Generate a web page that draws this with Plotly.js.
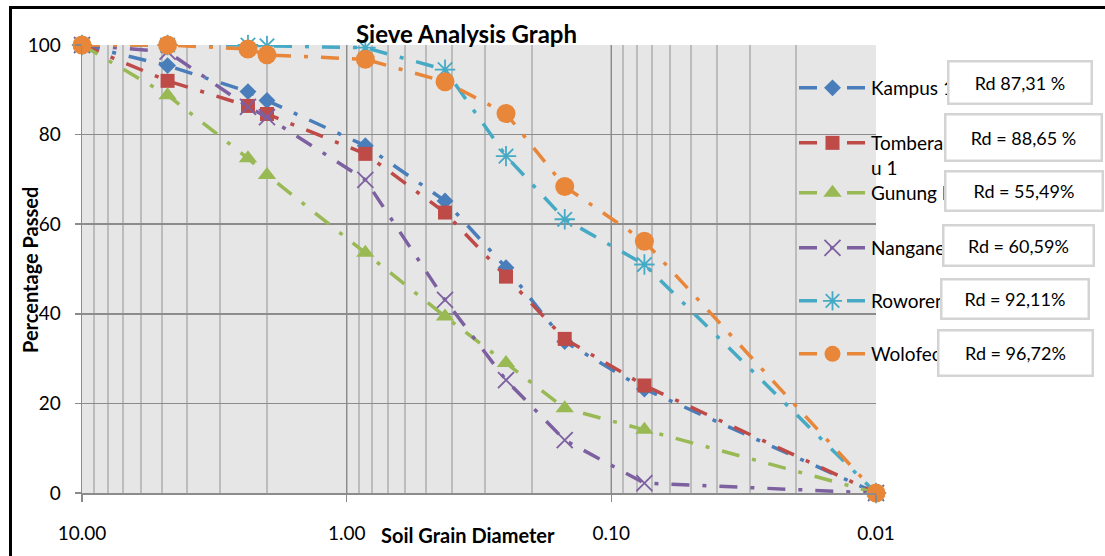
<!DOCTYPE html>
<html>
<head>
<meta charset="utf-8">
<script src="https://cdn.plot.ly/plotly-3.0.1.min.js"></script>
<style>
  html, body { margin: 0; padding: 0; background: #ffffff; }
  #chart { width: 1105px; height: 556px; }
</style>
</head>
<body>
<div id="chart"></div>
<script>
// ---- data ----
const grainSize = [10, 4.75, 2.36, 2.0, 0.85, 0.425, 0.25, 0.15, 0.075, 0.01];
const kampus    = [100, 95.4, 89.6, 87.6, 77.5, 65.2, 50.3, 33.8, 23.2, 0];
const tomberau  = [100, 92.0, 86.4, 84.6, 75.7, 62.6, 48.3, 34.4, 24.0, 0];
const gunung    = [100, 88.8, 74.7, 71.0, 53.6, 39.4, 29.0, 18.9, 14.1, 0];
const nanganesa = [100, 98.5, 86.2, 83.9, 69.9, 43.1, 25.2, 11.8, 2.2, 0];
const roworena  = [100, 100, 100, 99.8, 99.4, 94.5, 75.2, 61.1, 51.0, 0];
const wolofeo   = [100, 100, 99.1, 97.8, 96.8, 91.8, 84.7, 68.4, 56.2, 0];

const seriesNames = ["Kampus 1", "Tombera<br>u 1", "Gunung Meja", "Nanganesa", "Roworena", "Wolofeo"];
const rdLabels = ["Rd 87,31 %", "Rd = 88,65 %", "Rd = 55,49%", "Rd = 60,59%", "Rd = 92,11%", "Rd = 96,72%"];
const xTickVals = [10, 1, 0.1, 0.01];
const xTickText = ["10.00", "1.00", "0.10", "0.01"];

// ---- layout geometry (pixels) ----
const W = 1105, H = 556;
const PL = 82, PR = 876, PT = 45, PB = 493;
const px2x = p => (p - PL) / (PR - PL);
const px2y = p => (PB - p) / (PB - PT);

const FONT = "Lato, 'Open Sans', sans-serif";
const colors = ["#4A7EBB", "#BE4B48", "#98B954", "#7D60A0", "#46AAC5", "#E8863A"];
const symbols = ["diamond", "square", "triangle-up", "x-thin-open", "asterisk-open", "circle"];
const sizes = [13, 14, 16, 16, 17, 19];
const allY = [kampus, tomberau, gunung, nanganesa, roworena, wolofeo];

const legendY = [88, 142, 193, 248, 301, 354];

const traces = allY.map((ys, i) => ({
  type: "scatter",
  mode: "lines+markers",
  x: grainSize,
  y: ys,
  name: seriesNames[i],
  legend: i === 0 ? "legend" : "legend" + (i + 1),
  cliponaxis: false,
  line: { color: colors[i], width: 3.5, dash: "18px,13px,4px,13px" },
  marker: {
    symbol: symbols[i],
    size: sizes[i],
    color: colors[i],
    line: { color: colors[i], width: (i === 3 || i === 4) ? 1.8 : 0 }
  }
}));

const layout = {
  width: W, height: H,
  margin: { l: PL, r: W - PR, t: PT, b: H - PB, pad: 0 },
  paper_bgcolor: "#ffffff",
  plot_bgcolor: "#e6e6e6",
  font: { family: FONT, size: 19, color: "#000000" },
  showlegend: true,
  xaxis: {
    type: "log",
    range: [1, -2],
    tickmode: "array",
    tickvals: xTickVals,
    ticktext: xTickText,
    ticks: "outside",
    ticklen: 7,
    tickwidth: 1.5,
    tickcolor: "#8a8a8a",
    ticklabelstandoff: 16,
    tickfont: { family: FONT, size: 19, color: "#000" },
    showgrid: true,
    gridcolor: "#8c8c8c",
    gridwidth: 1.5,
    showline: true,
    linecolor: "#8c8c8c",
    linewidth: 1.5,
    zeroline: false,
    minor: { dtick: "D1", showgrid: true, gridcolor: "#bcbcbc", gridwidth: 2, ticks: "" }
  },
  yaxis: {
    range: [0, 100],
    tickmode: "linear",
    tick0: 0,
    dtick: 20,
    ticks: "outside",
    ticklen: 6,
    tickwidth: 1.5,
    tickcolor: "#8a8a8a",
    ticklabelstandoff: 10,
    tickfont: { family: FONT, size: 19, color: "#000" },
    showgrid: true,
    gridcolor: "#8c8c8c",
    gridwidth: 1.5,
    showline: true,
    linecolor: "#8c8c8c",
    linewidth: 1.5,
    zeroline: false
  },
  annotations: [
    { text: "<b>Sieve Analysis Graph</b>", xref: "paper", yref: "paper",
      x: px2x(466), y: px2y(33), xanchor: "center", yanchor: "middle",
      showarrow: false, font: { family: FONT, size: 24, color: "#000" } },
    { text: "<b>Soil Grain Diameter</b>", xref: "paper", yref: "paper",
      x: px2x(468), y: px2y(535), xanchor: "center", yanchor: "middle",
      showarrow: false, font: { family: FONT, size: 20, color: "#000" } },
    { text: "<b>Percentage Passed</b>", xref: "paper", yref: "paper",
      x: px2x(30), y: px2y(270), xanchor: "center", yanchor: "middle", textangle: -90,
      showarrow: false, font: { family: FONT, size: 20, color: "#000" } }
  ],
  shapes: [
    { type: "line", xref: "paper", yref: "paper", x0: px2x(10.5), x1: px2x(10.5), y0: px2y(6), y1: px2y(560),
      line: { color: "#000", width: 3 } },
    { type: "line", xref: "paper", yref: "paper", x0: px2x(9), x1: px2x(1110), y0: px2y(7.5), y1: px2y(7.5),
      line: { color: "#000", width: 3 } }
  ]
};

// Rd boxes
const boxes = [
  [947, 60, 146, 45], [944, 113, 159, 49], [944, 170, 160, 42],
  [942, 224, 153, 43], [940, 278, 150, 42], [937, 329, 157, 48]
];
boxes.forEach((b, i) => {
  layout.annotations.push({
    text: rdLabels[i], xref: "paper", yref: "paper",
    x: px2x(b[0]), y: px2y(b[1]), xanchor: "left", yanchor: "top",
    width: b[2] - 5, height: b[3] - 5, align: "center", valign: "middle",
    bgcolor: "#ffffff", bordercolor: "#d4d4d4", borderwidth: 2.5, borderpad: 0,
    showarrow: false, font: { family: FONT, size: 18, color: "#000" }
  });
});

// one legend per series, placed like the reference
legendY.forEach((py, i) => {
  const key = i === 0 ? "legend" : "legend" + (i + 1);
  layout[key] = {
    x: px2x(794), y: px2y(py), xanchor: "left", yanchor: i === 1 ? "top" : "middle",
    bgcolor: "rgba(0,0,0,0)", borderwidth: 0,
    itemwidth: 67, valign: "top",
    font: { family: FONT, size: 19, color: "#000" }
  };
  if (i === 1) layout[key].y = px2y(py - 18);
});

Plotly.newPlot("chart", traces, layout, { staticPlot: true, displayModeBar: false });
</script>
</body>
</html>
